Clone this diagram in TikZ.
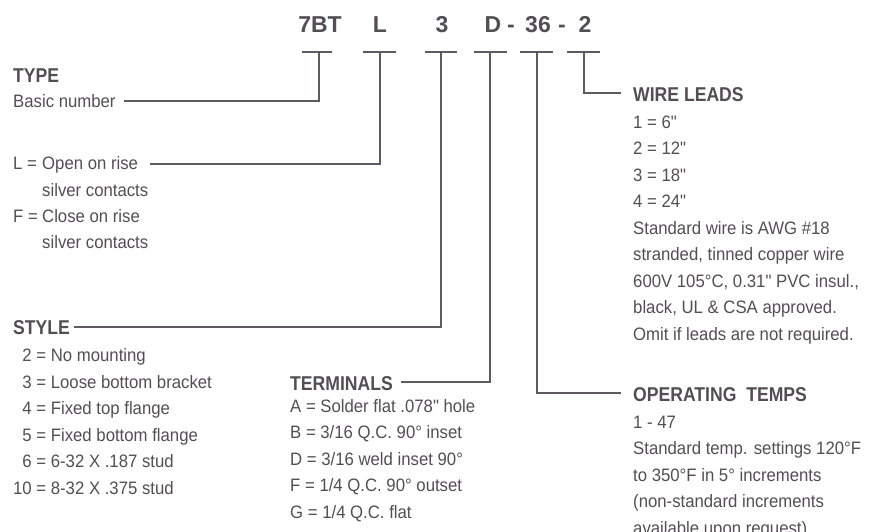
\documentclass[tikz,border=0pt]{standalone}
\usepackage{fontspec}
\setmainfont{Liberation Sans}
\newfontfamily\bodyf{Liberation Sans}[FakeStretch=0.93]
\newfontfamily\headf{Liberation Sans}[FakeStretch=0.88]
\definecolor{ink}{RGB}{82,78,82}
\definecolor{wire}{RGB}{95,90,95}
\begin{document}
\begin{tikzpicture}[x=1pt,y=-1pt,
  txt/.style={inner sep=0pt, anchor=base west, text=ink, font=\bodyf\fontsize{18}{20}\selectfont},
  head/.style={inner sep=0pt, anchor=base west, text=ink, font=\headf\bfseries\fontsize{20}{22}\selectfont},
  code/.style={inner sep=0pt, anchor=base, text=ink, font=\bfseries\fontsize{23}{25}\selectfont},
  lead/.style={draw=wire, line width=1.1pt}]
\useasboundingbox (0,0) rectangle (874,531);
% code
\node[code] (c1) at (320,32) {7BT};
\node[code] (c2) at (380,32) {L};
\node[code] (c3) at (442,32) {3};
\node[code] (c4) at (493,32) {D};
\node[code] (d1) at (511,32) {-};
\node[code] (c5) at (538,32) {36};
\node[code] (d2) at (562,32) {-};
\node[code] (c6) at (585,32) {2};
% bars
\coordinate (b1l) at (302,52); \coordinate (b1r) at (332,52); \coordinate (b1) at (319,52);
\coordinate (b2l) at (363,52); \coordinate (b2r) at (396,52); \coordinate (b2) at (380,52);
\coordinate (b3l) at (425,52); \coordinate (b3r) at (457,52); \coordinate (b3) at (441,52);
\coordinate (b4l) at (474,52); \coordinate (b4r) at (507,52); \coordinate (b4) at (490,52);
\coordinate (b5l) at (520,52); \coordinate (b5r) at (553,52); \coordinate (b5) at (537,52);
\coordinate (b6l) at (567,52); \coordinate (b6r) at (600,52); \coordinate (b6) at (584,52);
\foreach \i in {1,...,6} {\draw[lead] (b\i l) -- (b\i r);}
\coordinate (e1) at (124,101);
\coordinate (e2) at (150,164);
\coordinate (e3) at (74,327);
\coordinate (e4) at (401,382);
\coordinate (e5) at (621,393);
\coordinate (e6) at (621,93);
\draw[lead] (b1) |- (e1);
\draw[lead] (b2) |- (e2);
\draw[lead] (b3) |- (e3);
\draw[lead] (b4) |- (e4);
\draw[lead] (b5) |- (e5);
\draw[lead] (b6) |- (e6);
% TYPE
\node[head] (type) at (13,82) {TYPE};
\node[txt] (basic) at (13,107) {Basic number};
\node[txt] (lopen) at (13,169.5) {\makebox[29pt][l]{L =}Open on rise};
\node[txt] (lsil) at (42,196) {silver contacts};
\node[txt] (fclose) at (13,222) {\makebox[29pt][l]{F =}Close on rise};
\node[txt] (fsil) at (42,248.5) {silver contacts};
% STYLE
\node[head] (style) at (13,334.5) {STYLE};
\node[txt] (s2) at (13,361.5) {\makebox[18.6pt][r]{2} = No mounting};
\node[txt] (s3) at (13,388) {\makebox[18.6pt][r]{3} = Loose bottom bracket};
\node[txt] (s4) at (13,414.5) {\makebox[18.6pt][r]{4} = Fixed top flange};
\node[txt] (s5) at (13,441) {\makebox[18.6pt][r]{5} = Fixed bottom flange};
\node[txt] (s6) at (13,467.5) {\makebox[18.6pt][r]{6} = 6-32 X .187 stud};
\node[txt] (s10) at (13,494) {\makebox[18.6pt][r]{10} = 8-32 X .375 stud};
% TERMINALS
\node[head] (term) at (290,390) {TERMINALS};
\node[txt] (ta) at (290,412) {A = Solder flat .078" hole};
\node[txt] (tb) at (290,438.5) {B = 3/16 Q.C. 90° inset};
\node[txt] (td) at (290,465) {D = 3/16 weld inset 90°};
\node[txt] (tf) at (290,491.5) {F = 1/4 Q.C. 90° outset};
\node[txt] (tg) at (290,518) {G = 1/4 Q.C. flat};
% WIRE LEADS
\node[head] (wire) at (633,101) {WIRE LEADS};
\node[txt] (w1) at (633,128) {1 = 6"};
\node[txt] (w2) at (633,154.5) {2 = 12"};
\node[txt] (w3) at (633,181) {3 = 18"};
\node[txt] (w4) at (633,207.5) {4 = 24"};
\node[txt] (w5) at (633,234) {Standard wire is AWG \#18};
\node[txt] (w6) at (633,260.5) {stranded, tinned copper wire};
\node[txt] (w7) at (633,287) {600V 105°C, 0.31" PVC insul.,};
\node[txt] (w8) at (633,313.5) {black, UL \& CSA approved.};
\node[txt] (w9) at (633,340) {Omit if leads are not required.};
% OPERATING TEMPS
\node[head] (oper) at (633,401) {OPERATING\ \ TEMPS};
\node[txt] (o1) at (633,428) {1 - 47};
\node[txt] (o2) at (633,454.5) {Standard temp. settings 120°F};
\node[txt] (o3) at (633,481) {to 350°F in 5° increments};
\node[txt] (o4) at (633,507.5) {(non-standard increments};
\node[txt] (o5) at (633,534) {available upon request)};
\end{tikzpicture}
\end{document}
